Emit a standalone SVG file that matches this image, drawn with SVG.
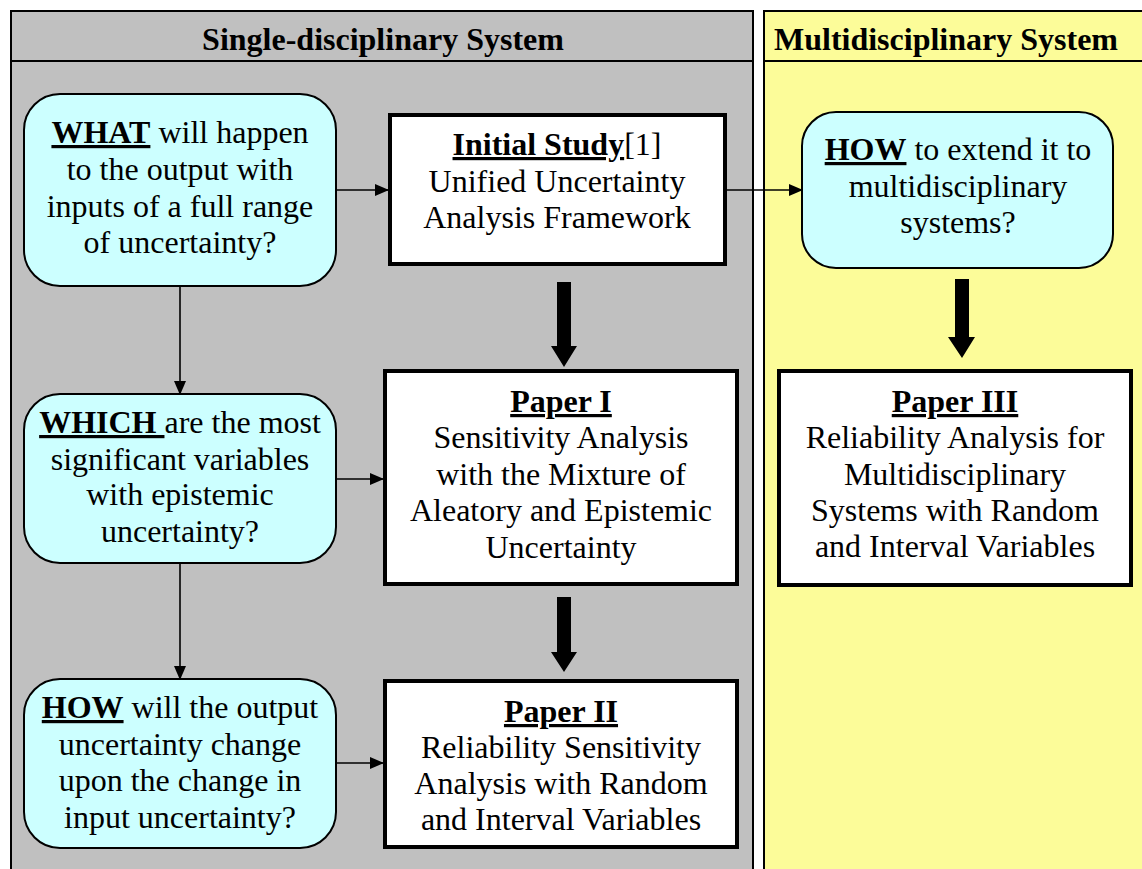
<svg xmlns="http://www.w3.org/2000/svg" width="1142" height="869" viewBox="0 0 1142 869">
<defs>
<style>
text{font-family:"Liberation Serif","Times New Roman",serif;font-size:32px;fill:#000;text-anchor:middle}
.b{font-weight:bold}
.u{font-weight:bold;text-decoration:underline}
.q{fill:#CCFFFF;stroke:#000;stroke-width:2}
.p{fill:#fff;stroke:#000;stroke-width:4}
.ln{fill:none;stroke:#000;stroke-width:1.6}
.big{fill:#000}
</style>
<marker id="ah" markerWidth="14" markerHeight="12" refX="13" refY="6" orient="auto" markerUnits="userSpaceOnUse">
<path d="M0,0 L14,6 L0,12 Z" fill="#000"/>
</marker>
</defs>
<rect width="1142" height="869" fill="#fff"/>
<g id="panel-single">
<rect x="11" y="11" width="742" height="870" fill="#C0C0C0" stroke="#000" stroke-width="2"/>
<line x1="11" y1="61" x2="753" y2="61" stroke="#000" stroke-width="2"/>
<text class="b" x="383" y="50">Single-disciplinary System</text>
</g>
<g id="panel-multi">
<rect x="764" y="11" width="390" height="870" fill="#FCFC99" stroke="#000" stroke-width="2"/>
<line x1="764" y1="61" x2="1142" y2="61" stroke="#000" stroke-width="2"/>
<text class="b" x="946" y="50">Multidisciplinary System</text>
</g>
<g id="connectors">
<line class="ln" x1="336" y1="190" x2="388" y2="190" marker-end="url(#ah)"/>
<line class="ln" x1="727" y1="190" x2="802" y2="190" marker-end="url(#ah)"/>
<line class="ln" x1="180" y1="286" x2="180" y2="394" marker-end="url(#ah)"/>
<line class="ln" x1="180" y1="563" x2="180" y2="679" marker-end="url(#ah)"/>
<line class="ln" x1="336" y1="479" x2="383" y2="479" marker-end="url(#ah)"/>
<line class="ln" x1="336" y1="763" x2="383" y2="763" marker-end="url(#ah)"/>
<path class="big" d="M557,282 H571 V346 H577 L564,367 L551,346 H557 Z"/>
<path class="big" d="M557,597 H571 V652 H577 L564,672 L551,652 H557 Z"/>
<path class="big" d="M955,279 H969 V337 H975 L962,358 L948,337 H955 Z"/>
</g>
<g id="what">
<rect class="q" x="24" y="94" width="312" height="192" rx="36" ry="36"/>
<text x="180" y="143" xml:space="preserve"><tspan class="u">WHAT</tspan> will happen</text>
<text x="180" y="180">to the output with</text>
<text x="180" y="217">inputs of a full range</text>
<text x="180" y="253">of uncertainty?</text>
</g>
<g id="initial-study">
<rect class="p" x="390" y="115" width="335" height="149"/>
<text x="557" y="155"><tspan class="u">Initial Study</tspan>[1]</text>
<text x="557" y="192">Unified Uncertainty</text>
<text x="557" y="228">Analysis Framework</text>
</g>
<g id="how-extend">
<rect class="q" x="802" y="112" width="311" height="156" rx="34" ry="34"/>
<text x="958" y="160" xml:space="preserve"><tspan class="u">HOW</tspan> to extend it to</text>
<text x="958" y="197">multidisciplinary</text>
<text x="958" y="233">systems?</text>
</g>
<g id="which">
<rect class="q" x="24" y="394" width="312" height="169" rx="36" ry="36"/>
<text x="180" y="433" xml:space="preserve"><tspan class="u">WHICH </tspan>are the most</text>
<text x="180" y="470">significant variables</text>
<text x="180" y="505">with epistemic</text>
<text x="180" y="542">uncertainty?</text>
</g>
<g id="paper1">
<rect class="p" x="385" y="371" width="352" height="213"/>
<text class="u" x="561" y="412">Paper I</text>
<text x="561" y="448">Sensitivity Analysis</text>
<text x="561" y="485">with the Mixture of</text>
<text x="561" y="521">Aleatory and Epistemic</text>
<text x="561" y="558">Uncertainty</text>
</g>
<g id="how-change">
<rect class="q" x="24" y="679" width="312" height="169" rx="36" ry="36"/>
<text x="180" y="718" xml:space="preserve"><tspan class="u">HOW</tspan> will the output</text>
<text x="180" y="755">uncertainty change</text>
<text x="180" y="791">upon the change in</text>
<text x="180" y="828">input uncertainty?</text>
</g>
<g id="paper2">
<rect class="p" x="385" y="681" width="352" height="166"/>
<text class="u" x="561" y="722">Paper II</text>
<text x="561" y="758">Reliability Sensitivity</text>
<text x="561" y="794">Analysis with Random</text>
<text x="561" y="830">and Interval Variables</text>
</g>
<g id="paper3">
<rect class="p" x="779" y="371" width="352" height="214"/>
<text class="u" x="955" y="412">Paper III</text>
<text x="955" y="448">Reliability Analysis for</text>
<text x="955" y="485">Multidisciplinary</text>
<text x="955" y="521">Systems with Random</text>
<text x="955" y="557">and Interval Variables</text>
</g>
</svg>
